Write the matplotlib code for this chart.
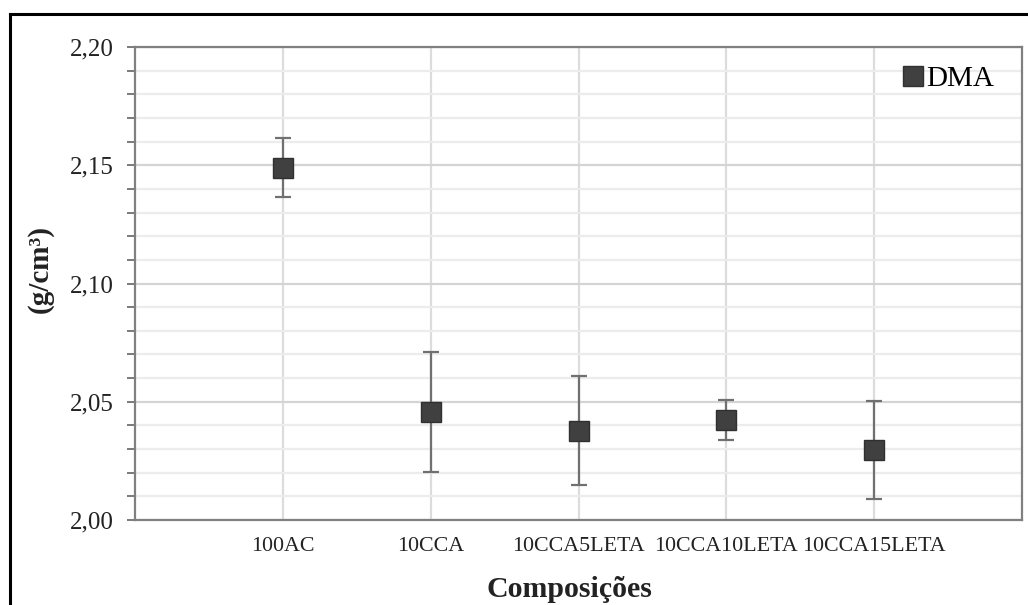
import matplotlib.pyplot as plt
from matplotlib.lines import Line2D
from matplotlib.ticker import MultipleLocator, FuncFormatter

categorias = ['100AC', '10CCA', '10CCA5LETA', '10CCA10LETA', '10CCA15LETA']
dma = [2.149, 2.0457, 2.0378, 2.0423, 2.0296]
erro = [0.0125, 0.0254, 0.0229, 0.0086, 0.0208]

plt.rcParams['font.family'] = ['Liberation Serif', 'DejaVu Serif']

fig = plt.figure(figsize=(10.28, 6.05), dpi=100)
ax = fig.add_axes([0.1313, 0.1405, 0.8629, 0.7818])

x = list(range(1, len(categorias) + 1))
ax.errorbar(x, dma, yerr=erro, fmt='s', color='#404040', ms=14.5, mec='#303030',
            ecolor='#707070', elinewidth=1.6, capsize=6, capthick=1.6, zorder=5)

ax.set_xlim(0, 6)
ax.set_ylim(2.00, 2.20)
ax.set_xticks(x)
ax.set_xticklabels(categorias, fontsize=15.8)
ax.yaxis.set_major_locator(MultipleLocator(0.05))
ax.yaxis.set_minor_locator(MultipleLocator(0.01))
ax.yaxis.set_major_formatter(FuncFormatter(lambda v, p: f'{v:.2f}'.replace('.', ',')))
ax.tick_params(axis='y', which='both', direction='out', length=6, width=1.3,
               color='#707070', labelsize=18, pad=9, labelcolor='#222222')
ax.tick_params(axis='x', length=0, pad=12, labelcolor='#222222')

# grade
ax.grid(axis='y', which='major', color='#d4d4d4', lw=1.6)
ax.grid(axis='y', which='minor', color='#ececec', lw=1.6)
ax.grid(axis='x', which='major', color='#dcdcdc', lw=1.6)
ax.set_axisbelow(True)
for s in ax.spines.values():
    s.set_color('#808080')
    s.set_linewidth(1.6)

ax.set_xlabel('Composições', fontsize=21.5, fontweight='bold', color='#222222')
ax.set_ylabel('(g/cm³)', fontsize=21, fontweight='bold', color='#222222')
ax.xaxis.set_label_coords(0.49, -0.118)
ax.yaxis.set_label_coords(-0.092, 0.53)

h = Line2D([], [], marker='s', ls='none', color='#404040', ms=14.5, mec='#303030')
ax.legend([h], ['DMA'], loc='upper right', bbox_to_anchor=(0.99, 1.0), frameon=False,
          fontsize=21, handlelength=0.6, handletextpad=0.15, borderaxespad=0.25)

# moldura externa (só topo e esquerda)
fig.add_artist(Line2D([10 / 1028, 10 / 1028], [0, 1 - 14 / 605], color='black', lw=2.2,
                      transform=fig.transFigure))
fig.add_artist(Line2D([10 / 1028, 1], [1 - 14 / 605, 1 - 14 / 605], color='black', lw=2.2,
                      transform=fig.transFigure))

fig.savefig('out.png', dpi=100)
